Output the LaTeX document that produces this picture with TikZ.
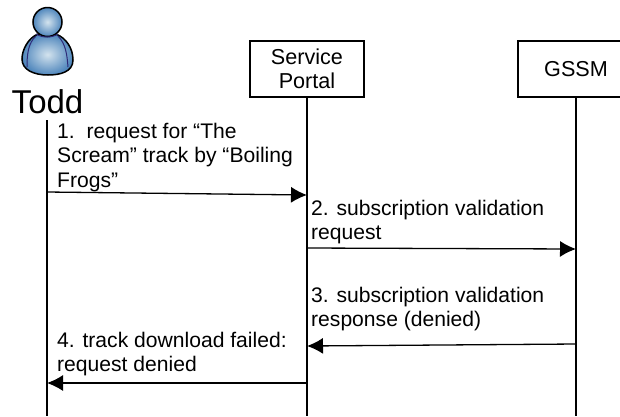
\documentclass[tikz,border=0pt]{standalone}
\usepackage{fontspec}
\setmainfont{Liberation Sans}
\usetikzlibrary{arrows.meta}
\definecolor{bluedark}{HTML}{4F86BC}
\definecolor{bluelight}{HTML}{D3E3EE}
\definecolor{seam}{HTML}{2E2A78}
\tikzset{
  actorbox/.style={draw=black,line width=1.3pt,fill=white,align=center,minimum width=114pt,minimum height=56pt,inner sep=0pt,font=\fontsize{21.6}{24.5}\selectfont},
  lifeline/.style={draw=black,line width=1.3pt},
  msg/.style={draw=black,line width=1.3pt,-{Latex[length=16pt,width=16pt]},shorten >=0pt},
  msgtext/.style={anchor=north west,align=left,inner sep=0pt,font=\fontsize{21.1}{24.5}\selectfont},
  iconline/.style={draw=black,line width=1.5pt}
}
\begin{document}
\begin{tikzpicture}[x=1pt,y=-1pt]
\useasboundingbox[fill=white] (0,0) rectangle (620,416);
% Person icon
\path[iconline,inner color=bluelight,outer color=bluedark]
  (38,34) .. controls (28,38) and (22,50) .. (22,59)
  .. controls (22,70) and (34,75) .. (48,75)
  .. controls (60,75) and (73,72) .. (73,60)
  .. controls (73,48) and (66,38) .. (56,34) -- cycle;
\path[iconline,inner color=bluelight,outer color=bluedark] (47.5,22) circle[radius=14.5];
\draw[seam,line width=1pt] (27,67) .. controls (27,55) and (28,43) .. (36,36);
\draw[seam,line width=1pt] (68,67) .. controls (67,55) and (66,44) .. (58,36);
\draw[seam,line width=1pt] (36,34) .. controls (42,38) and (52,38) .. (58,34);
\node[inner sep=0pt,font=\fontsize{33}{33}\selectfont] (todd) at (47.5,102) {Todd};
% Actors
\node[actorbox] (portal) at (307,69) {Service\\Portal};
\node[actorbox,minimum width=116pt] (gssm) at (576,69) {GSSM};
% Lifelines
\coordinate (toddtop) at (47,120);
\coordinate (toddend) at (47,416);
\coordinate (portalend) at (307,416);
\coordinate (gssmend) at (576,416);
\draw[lifeline] (toddtop) -- (toddend);
\draw[lifeline] (portal.south) -- (portalend);
\draw[lifeline] (gssm.south) -- (gssmend);
% Messages
\coordinate (m1a) at (47,192); \coordinate (m1b) at (307,195);
\coordinate (m2a) at (307,248); \coordinate (m2b) at (576,249);
\coordinate (m3a) at (576,344); \coordinate (m3b) at (307,346);
\coordinate (m4a) at (307,383); \coordinate (m4b) at (47,383);
\draw[msg] (m1a) -- (m1b);
\draw[msg] (m2a) -- (m2b);
\draw[msg] (m3a) -- (m3b);
\draw[msg] (m4a) -- (m4b);
% Labels
\node[msgtext] (t1) at (57,123) {1.\ \ request for “The\\Scream” track by “Boiling\\Frogs”};
\node[msgtext] (t2) at (311,200) {2. subscription validation\\request};
\node[msgtext] (t3) at (311,287) {3. subscription validation\\response (denied)};
\node[msgtext] (t4) at (57,331.5) {4. track download failed:\\request denied};
\end{tikzpicture}
\end{document}
